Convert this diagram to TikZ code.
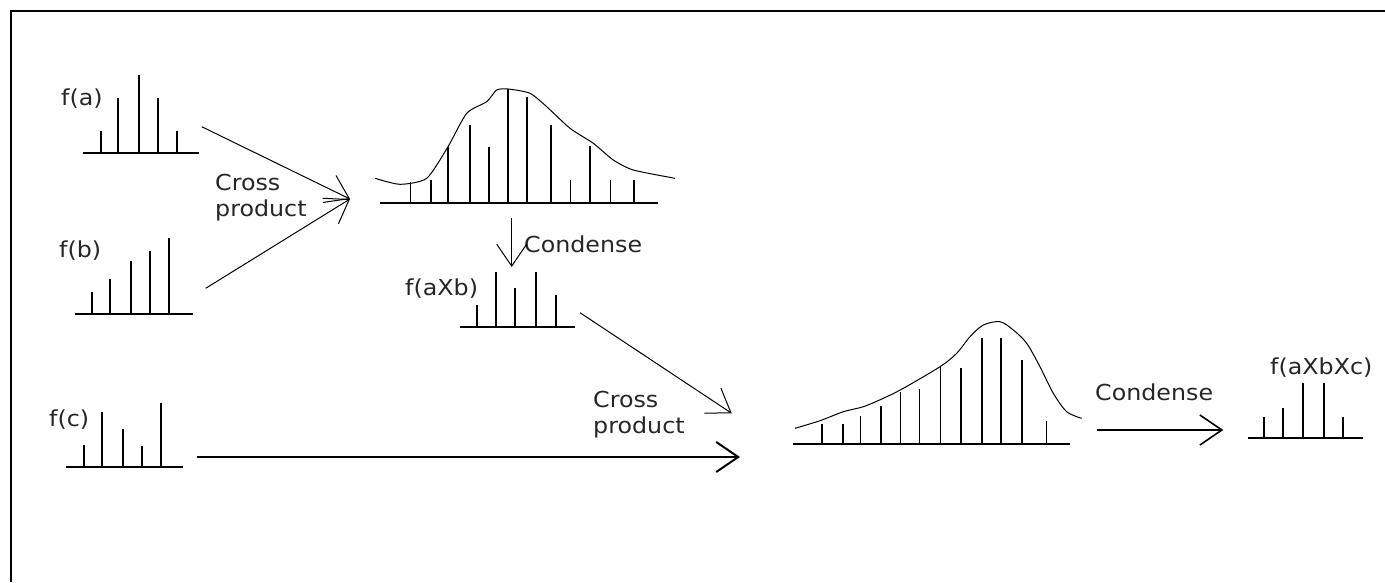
\documentclass[tikz,border=0pt]{standalone}
\usepackage{fontspec}
\setmainfont[FakeStretch=1.08]{DejaVu Sans}
\usetikzlibrary{arrows.meta}
\tikzset{
  lbl/.style={inner sep=0pt,text=black!85,font=\fontsize{22}{26}\selectfont},
  spike/.style={line width=1.9pt},
  thinspike/.style={line width=1pt},
  baseline/.style={line width=1.9pt},
  curve/.style={line width=1pt},
  flow/.style={line width=1pt,-{Straight Barb[length=22pt,width=30pt]}}
}
\begin{document}
\begin{tikzpicture}[x=1pt,y=-1pt]
  \useasboundingbox (0,0) rectangle (1385,582);
  % frame, top and left edges only
  \draw[line width=2.5pt] (1385,11) -- (11,11) -- (11,582);

  % f(a)
  \node[lbl,anchor=base west] (fa) at (61,105) {f(a)};
  \draw[baseline] (83,152.7) -- (199,152.7);
  \foreach \x/\h in {100.7/131,118.3/97.7,139/75,158.3/97.7,177.3/131}
    \draw[spike] (\x,152.7) -- (\x,\h);

  % f(b)
  \node[lbl,anchor=base west] (fb) at (59,257) {f(b)};
  \draw[baseline] (75,314) -- (193,314);
  \foreach \x/\h in {92.3/292.3,110/279,131/261.3,150/251,169.3/238.3}
    \draw[spike] (\x,314) -- (\x,\h);

  % f(c)
  \node[lbl,anchor=base west] (fc) at (49,426) {f(c)};
  \draw[baseline] (66,467.3) -- (182.7,467.3);
  \foreach \x/\h in {84.3/445,102.3/412.3,122.7/429.3,141.7/446,160.7/402.7}
    \draw[spike] (\x,467.3) -- (\x,\h);

  % first cross product
  \draw[curve] plot[smooth,tension=0.4] coordinates {(375,178.3) (400,184.3) (426.7,178.3)
    (448,146.7) (466.7,113.3) (486.7,101.7) (496.7,90) (508.3,89) (530,93.3)
    (546.7,106.7) (570,128.3) (593.3,143.3) (613.3,160) (633.3,170) (675,178.3)};
  \draw[baseline] (380,202.7) -- (658,202.7);
  \foreach \x/\h in {430.7/180,448.3/146.7,470/125,489/146.7,508.3/89,527/96.7,551/125,590/146,634/180}
    \draw[spike] (\x,202.7) -- (\x,\h);
  \foreach \x/\h in {410/181.7,570/180,610/180}
    \draw[thinspike] (\x,202.7) -- (\x,\h);

  % f(aXb)
  \node[lbl,anchor=base west] (fab) at (405,295) {f(aXb)};
  \draw[baseline] (460,326.7) -- (575,326.7);
  \foreach \x/\h in {477.3/305,496/271.7,515.3/288.3,536/271.7,555.7/295}
    \draw[spike] (\x,326.7) -- (\x,\h);

  % second cross product
  \draw[curve] plot[smooth,tension=0.5] coordinates {(795,428.3) (820,420.7) (843.3,411.7)
    (863.3,406.7) (883.3,398.3) (903.3,388.3) (940,366.7) (956.7,353.3) (970,336.7)
    (983.3,325) (1000,321.7) (1013.3,330) (1026.7,343.3) (1040,366.7) (1053.3,393.3)
    (1066.7,411.7) (1081.7,418.3)};
  \draw[baseline] (792.7,444) -- (1070,444);
  \foreach \x/\h in {821.7/424,843.3/424,881/406,960.7/367.7,982.3/337.7,1001/337.7,1021.7/360}
    \draw[spike] (\x,444) -- (\x,\h);
  \foreach \x/\h in {860.7/415.7,900.7/391.7,919.3/389.3,940/366.7,1046/420.7}
    \draw[thinspike] (\x,444) -- (\x,\h);

  % f(aXbXc)
  \node[lbl,anchor=base west] (fabc) at (1270,374) {f(aXbXc)};
  \draw[baseline] (1248,438.3) -- (1363,438.3);
  \foreach \x/\h in {1264.3/416.7,1283.3/408.3,1302.7/382.7,1324.3/382.7,1343.3/417.3}
    \draw[spike] (\x,438.3) -- (\x,\h);

  % labels of the steps
  \node[lbl,anchor=north west,align=left] (crossA) at (215,174) {Cross\\product};
  \node[lbl,anchor=north west,align=left] (crossB) at (593,391) {Cross\\product};
  \node[lbl,anchor=base west] (condA) at (524,252) {Condense};
  \node[lbl,anchor=base west] (condB) at (1095,400) {Condense};

  % arrow ends
  \coordinate (aout) at (201.7,126.7);
  \coordinate (bout) at (205.7,288.3);
  \coordinate (cout) at (196.7,457);
  \coordinate (abin) at (350,199);
  \coordinate (dtop) at (511.7,218);
  \coordinate (dbot) at (511.7,267);
  \coordinate (about) at (580,312.7);
  \coordinate (abcin) at (731.7,413.3);
  \coordinate (cin) at (740,457);
  \coordinate (condout) at (1096.7,430);
  \coordinate (condin) at (1223.3,430);

  % arrows
  \draw[flow] (aout) -- (abin);
  \draw[flow] (bout) -- (abin);
  \draw[flow] (dtop) -- (dbot);
  \draw[flow] (about) -- (abcin);
  \draw[flow,line width=2pt] (cout) -- (cin);
  \draw[flow,line width=1.6pt] (condout) -- (condin);
\end{tikzpicture}
\end{document}
